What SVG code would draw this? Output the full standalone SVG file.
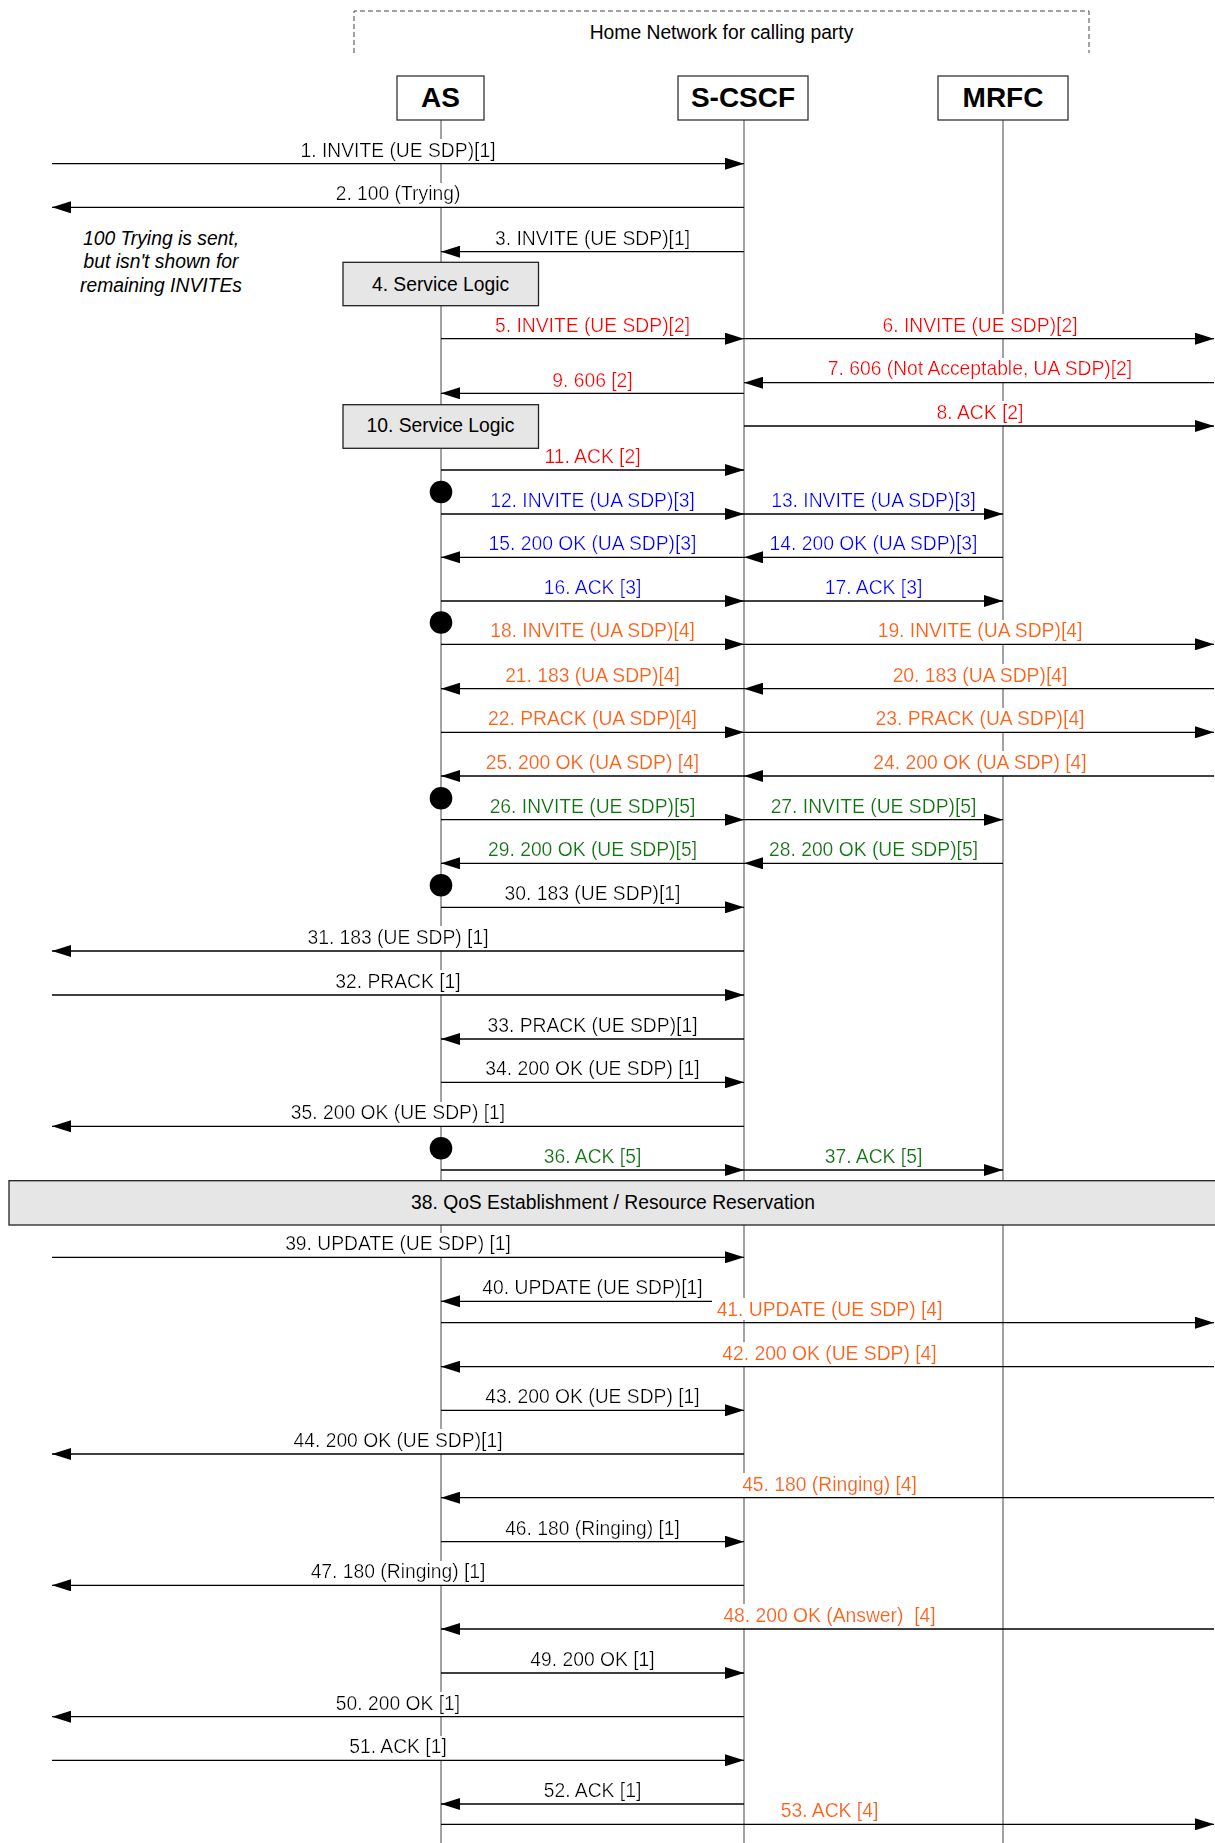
<svg xmlns="http://www.w3.org/2000/svg" width="1215" height="1843" viewBox="0 0 1215 1843">
<style>
text{font-family:"Liberation Sans",Arial,Helvetica,sans-serif;font-size:19.3px;text-anchor:middle}
.hd{font-weight:bold;font-size:28px}
.ll{stroke:#707070;stroke-width:1.3;fill:none}
.pb{fill:#fff;stroke:#333;stroke-width:1.3}
.sb{fill:#e6e6e6;stroke:#222;stroke-width:1.3}
.m{stroke:#000;stroke-width:1.3;fill:none;marker-end:url(#ah)}
.lb{filter:url(#bg)}
.lbt{filter:url(#bgt)}
.k{fill:#000}.r{fill:#ff0000}.b{fill:#0000ff}.o{fill:#ff6600}.g{fill:#008000}
.dot{fill:#000}
.note{font-style:italic}
</style>
<defs>
<marker id="ah" markerUnits="userSpaceOnUse" markerWidth="19" markerHeight="12" viewBox="0 0 19 12" refX="19" refY="6" orient="auto">
<path d="M0,0 L19,6 L0,12 z" fill="#000"/>
</marker>
<filter id="bg" x="-0.02" y="0" width="1.04" height="1.15">
<feFlood flood-color="#fff" result="f"/>
<feMerge><feMergeNode in="f"/><feMergeNode in="SourceGraphic"/></feMerge>
</filter>
<filter id="bgt" x="-0.02" y="0" width="1.04" height="1">
<feFlood flood-color="#fff" result="f"/>
<feMerge><feMergeNode in="f"/><feMergeNode in="SourceGraphic"/></feMerge>
</filter>
</defs>
<rect width="1215" height="1843" fill="#fff"/>

<g id="home-network">
<path d="M354,53 V11 H1089 V53" fill="none" stroke="#444" stroke-width="1" stroke-dasharray="5,3"/>
<text x="721.5" y="39">Home Network for calling party</text>
</g>

<g id="lifelines">
<line class="ll" x1="441" y1="120" x2="441" y2="1843"/>
<line class="ll" x1="744" y1="120" x2="744" y2="1843"/>
<line class="ll" x1="1003" y1="120" x2="1003" y2="1843"/>
</g>

<g id="AS"><rect class="pb" x="397" y="76" width="87" height="44"/><text class="hd" x="440.5" y="107">AS</text></g>
<g id="S-CSCF"><rect class="pb" x="678" y="76" width="130" height="44"/><text class="hd" x="743" y="107">S-CSCF</text></g>
<g id="MRFC"><rect class="pb" x="938" y="76" width="130" height="44"/><text class="hd" x="1003" y="107">MRFC</text></g>

<g id="labels">
<text class="lb k" x="398" y="156.7">1. INVITE (UE SDP)[1]</text>
<text class="lb k" x="398" y="200.3">2. 100 (Trying)</text>
<text class="lb k" x="592.5" y="244.7">3. INVITE (UE SDP)[1]</text>
<text class="lb r" x="592.5" y="331.7">5. INVITE (UE SDP)[2]</text>
<text class="lb r" x="980" y="331.7">6. INVITE (UE SDP)[2]</text>
<text class="lb r" x="980" y="375.2">7. 606 (Not Acceptable, UA SDP)[2]</text>
<text class="lb r" x="592.5" y="386.6">9. 606 [2]</text>
<text class="lb r" x="980" y="418.6">8. ACK [2]</text>
<text class="lb r" x="592.5" y="462.8">11. ACK [2]</text>
<text class="lb b" x="592.5" y="506.8">12. INVITE (UA SDP)[3]</text>
<text class="lb b" x="873.5" y="506.8">13. INVITE (UA SDP)[3]</text>
<text class="lb b" x="873.5" y="550.1">14. 200 OK (UA SDP)[3]</text>
<text class="lb b" x="592.5" y="550.1">15. 200 OK (UA SDP)[3]</text>
<text class="lb b" x="592.5" y="593.8">16. ACK [3]</text>
<text class="lb b" x="873.5" y="593.8">17. ACK [3]</text>
<text class="lb o" x="592.5" y="637.3">18. INVITE (UA SDP)[4]</text>
<text class="lb o" x="980" y="637.3">19. INVITE (UA SDP)[4]</text>
<text class="lb o" x="980" y="681.5">20. 183 (UA SDP)[4]</text>
<text class="lb o" x="592.5" y="681.5">21. 183 (UA SDP)[4]</text>
<text class="lb o" x="592.5" y="725.1">22. PRACK (UA SDP)[4]</text>
<text class="lb o" x="980" y="725.1">23. PRACK (UA SDP)[4]</text>
<text class="lb o" x="980" y="768.8">24. 200 OK (UA SDP) [4]</text>
<text class="lb o" x="592.5" y="768.8">25. 200 OK (UA SDP) [4]</text>
<text class="lb g" x="592.5" y="812.5">26. INVITE (UE SDP)[5]</text>
<text class="lb g" x="873.5" y="812.5">27. INVITE (UE SDP)[5]</text>
<text class="lb g" x="873.5" y="856.1">28. 200 OK (UE SDP)[5]</text>
<text class="lb g" x="592.5" y="856.1">29. 200 OK (UE SDP)[5]</text>
<text class="lb k" x="592.5" y="900.1">30. 183 (UE SDP)[1]</text>
<text class="lb k" x="398" y="943.8">31. 183 (UE SDP) [1]</text>
<text class="lb k" x="398" y="987.8">32. PRACK [1]</text>
<text class="lb k" x="592.5" y="1031.8">33. PRACK (UE SDP)[1]</text>
<text class="lb k" x="592.5" y="1075.1">34. 200 OK (UE SDP) [1]</text>
<text class="lb k" x="398" y="1119.1">35. 200 OK (UE SDP) [1]</text>
<text class="lb g" x="592.5" y="1162.8">36. ACK [5]</text>
<text class="lb g" x="873.5" y="1162.8">37. ACK [5]</text>
<text class="lb k" x="398" y="1250.3">39. UPDATE (UE SDP) [1]</text>
<text class="lb k" x="592.5" y="1294.1">40. UPDATE (UE SDP)[1]</text>
<text class="lb o" x="829.5" y="1359.5">42. 200 OK (UE SDP) [4]</text>
<text class="lb k" x="592.5" y="1403.1">43. 200 OK (UE SDP) [1]</text>
<text class="lb k" x="398" y="1446.8">44. 200 OK (UE SDP)[1]</text>
<text class="lb o" x="829.5" y="1490.5">45. 180 (Ringing) [4]</text>
<text class="lb k" x="592.5" y="1534.5">46. 180 (Ringing) [1]</text>
<text class="lb k" x="398" y="1578.1">47. 180 (Ringing) [1]</text>
<text class="lb o" x="829.5" y="1621.8">48. 200 OK (Answer)&#160; [4]</text>
<text class="lb k" x="592.5" y="1665.8">49. 200 OK [1]</text>
<text class="lb k" x="398" y="1709.5">50. 200 OK [1]</text>
<text class="lb k" x="398" y="1753.1">51. ACK [1]</text>
<text class="lb k" x="592.5" y="1796.8">52. ACK [1]</text>
<text class="lb o" x="829.5" y="1817">53. ACK [4]</text>
</g>

<g id="connectors">
<line class="m" x1="52" y1="163.7" x2="744" y2="163.7"/>
<line class="m" x1="744" y1="207.3" x2="52" y2="207.3"/>
<line class="m" x1="744" y1="251.7" x2="441" y2="251.7"/>
<line class="m" x1="441" y1="338.7" x2="744" y2="338.7"/>
<line class="m" x1="744" y1="338.7" x2="1214" y2="338.7"/>
<line class="m" x1="1214" y1="382.7" x2="744" y2="382.7"/>
<line class="m" x1="744" y1="393.3" x2="441" y2="393.3"/>
<line class="m" x1="744" y1="426" x2="1214" y2="426"/>
<line class="m" x1="441" y1="470" x2="744" y2="470"/>
<line class="m" x1="441" y1="514" x2="744" y2="514"/>
<line class="m" x1="744" y1="514" x2="1003" y2="514"/>
<line class="m" x1="1003" y1="557.3" x2="744" y2="557.3"/>
<line class="m" x1="744" y1="557.3" x2="441" y2="557.3"/>
<line class="m" x1="441" y1="601" x2="744" y2="601"/>
<line class="m" x1="744" y1="601" x2="1003" y2="601"/>
<line class="m" x1="441" y1="644.3" x2="744" y2="644.3"/>
<line class="m" x1="744" y1="644.3" x2="1214" y2="644.3"/>
<line class="m" x1="1214" y1="688.7" x2="744" y2="688.7"/>
<line class="m" x1="744" y1="688.7" x2="441" y2="688.7"/>
<line class="m" x1="441" y1="732.3" x2="744" y2="732.3"/>
<line class="m" x1="744" y1="732.3" x2="1214" y2="732.3"/>
<line class="m" x1="1214" y1="776" x2="744" y2="776"/>
<line class="m" x1="744" y1="776" x2="441" y2="776"/>
<line class="m" x1="441" y1="819.7" x2="744" y2="819.7"/>
<line class="m" x1="744" y1="819.7" x2="1003" y2="819.7"/>
<line class="m" x1="1003" y1="863.3" x2="744" y2="863.3"/>
<line class="m" x1="744" y1="863.3" x2="441" y2="863.3"/>
<line class="m" x1="441" y1="907.3" x2="744" y2="907.3"/>
<line class="m" x1="744" y1="951" x2="52" y2="951"/>
<line class="m" x1="52" y1="995" x2="744" y2="995"/>
<line class="m" x1="744" y1="1039" x2="441" y2="1039"/>
<line class="m" x1="441" y1="1082.3" x2="744" y2="1082.3"/>
<line class="m" x1="744" y1="1126.3" x2="52" y2="1126.3"/>
<line class="m" x1="441" y1="1170" x2="744" y2="1170"/>
<line class="m" x1="744" y1="1170" x2="1003" y2="1170"/>
<line class="m" x1="52" y1="1257.3" x2="744" y2="1257.3"/>
<line class="m" x1="744" y1="1301.3" x2="441" y2="1301.3"/>
<line class="m" x1="441" y1="1322.7" x2="1214" y2="1322.7"/>
<line class="m" x1="1214" y1="1366.7" x2="441" y2="1366.7"/>
<line class="m" x1="441" y1="1410.3" x2="744" y2="1410.3"/>
<line class="m" x1="744" y1="1454" x2="52" y2="1454"/>
<line class="m" x1="1214" y1="1497.7" x2="441" y2="1497.7"/>
<line class="m" x1="441" y1="1541.7" x2="744" y2="1541.7"/>
<line class="m" x1="744" y1="1585.3" x2="52" y2="1585.3"/>
<line class="m" x1="1214" y1="1629" x2="441" y2="1629"/>
<line class="m" x1="441" y1="1673" x2="744" y2="1673"/>
<line class="m" x1="744" y1="1716.7" x2="52" y2="1716.7"/>
<line class="m" x1="52" y1="1760.3" x2="744" y2="1760.3"/>
<line class="m" x1="744" y1="1804" x2="441" y2="1804"/>
<line class="m" x1="441" y1="1824.3" x2="1214" y2="1824.3"/>
</g>

<g id="label-41">
<text class="lbt o" x="829.5" y="1315.8">41. UPDATE (UE SDP) [4]</text>
</g>

<g id="step4"><rect class="sb" x="343" y="262.3" width="195.5" height="43.4"/><text x="440.5" y="290.8">4. Service Logic</text></g>
<g id="step10"><rect class="sb" x="343" y="404.7" width="195.5" height="43.6"/><text x="440.5" y="432">10. Service Logic</text></g>
<g id="step38"><rect class="sb" x="9" y="1180.7" width="1215" height="44.3"/><text x="613" y="1208.8">38. QoS Establishment / Resource Reservation</text></g>

<g id="dots">
<circle class="dot" cx="441" cy="492" r="11.3"/>
<circle class="dot" cx="441" cy="622.5" r="11.3"/>
<circle class="dot" cx="441" cy="798.3" r="11.3"/>
<circle class="dot" cx="441" cy="885.3" r="11.3"/>
<circle class="dot" cx="441" cy="1148.3" r="11.3"/>
</g>

<g id="note">
<text class="note" x="161" y="245">100 Trying is sent,</text>
<text class="note" x="161" y="268.3">but isn't shown for</text>
<text class="note" x="161" y="291.6">remaining INVITEs</text>
</g>
</svg>
